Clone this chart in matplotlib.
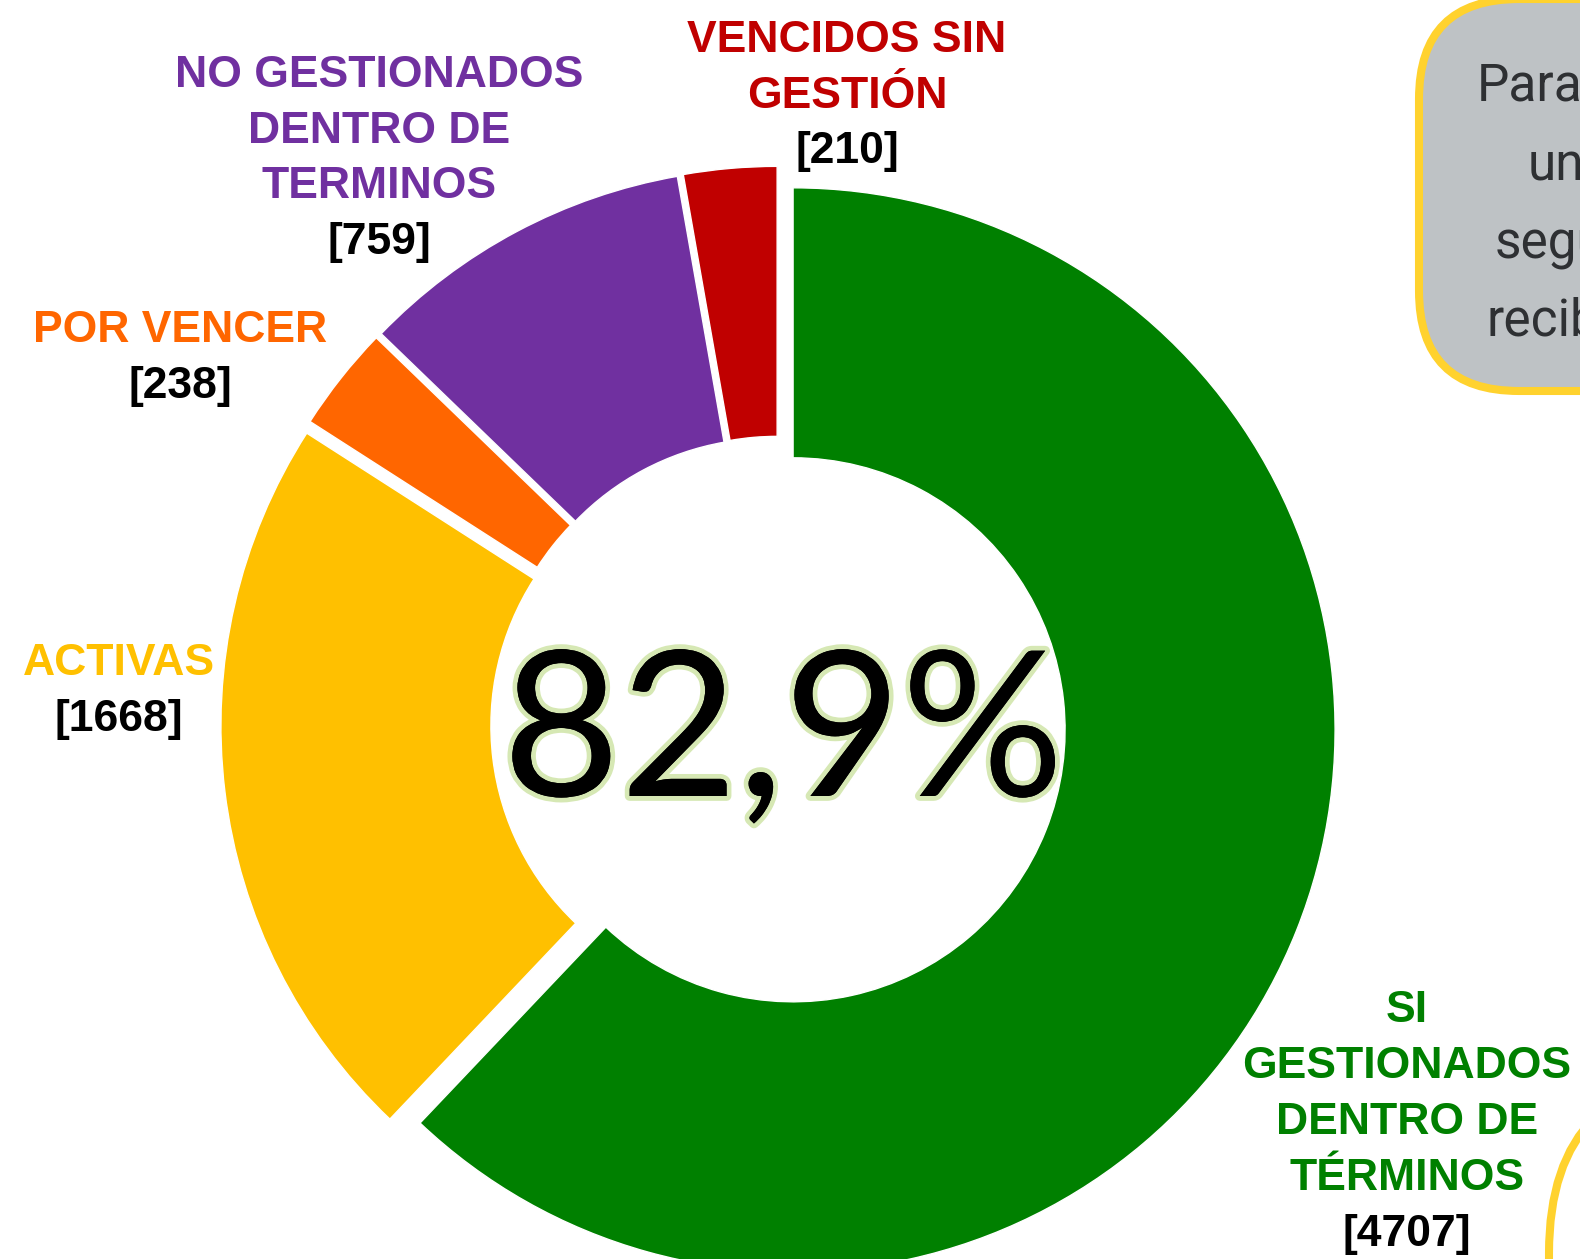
import matplotlib
matplotlib.use("Agg")
import matplotlib.pyplot as plt
from matplotlib.patches import FancyBboxPatch
import matplotlib.patheffects as pe

# ---- data ----
categories = ["SI\nGESTIONADOS\nDENTRO DE\nTÉRMINOS", "ACTIVAS", "POR VENCER",
              "NO GESTIONADOS\nDENTRO DE\nTERMINOS", "VENCIDOS SIN\nGESTIÓN"]
values = [4707, 1668, 238, 759, 210]
colors = ["#008000", "#FFC000", "#FF6600", "#7030A0", "#C00000"]
center_text = "82,9%"
callout_lines = ["Para", "un", "segu", "recib"]

# ---- layout (pixel coordinates, y from top) ----
W, H = 1580, 1259
label_layout = [  # x center, first baseline, line step
    (1407, 1022, 56),
    (119, 675, 56),
    (180, 342, 56),
    (379, 87, 55.5),
    (847, 52, 55.5),
]

fig = plt.figure(figsize=(W / 100, H / 100), dpi=100)
ax = fig.add_axes([0, 0, 1, 1])

def Y(y):
    return H - y

cx, cy = 778.5, 724
R, ring = 542, 270
ax.pie(values, colors=colors, startangle=90, counterclock=False,
       radius=R, center=(cx, Y(cy)), explode=[15.7] * len(values),
       wedgeprops=dict(width=ring, edgecolor="white", linewidth=1.0))

ax.set_xlim(0, W)
ax.set_ylim(0, H)
ax.set_aspect("equal")
ax.axis("off")

label_font = dict(family=["Liberation Sans", "DejaVu Sans"], fontsize=32,
                  fontweight="bold")
for cat, val, col, (lx, by, step) in zip(categories, values, colors, label_layout):
    lines = cat.split("\n")
    for i, ln in enumerate(lines):
        ax.text(lx, Y(by + i * step), ln, color=col, ha="center",
                va="baseline", **label_font)
    ax.text(lx, Y(by + len(lines) * step), f"[{val}]", color="black",
            ha="center", va="baseline", **label_font)

# center percentage
ax.text(783, Y(796), center_text, family=["Lato", "DejaVu Sans"],
        fontsize=146, color="black", ha="center", va="baseline",
        path_effects=[pe.withStroke(linewidth=7, foreground="#d6e8b4"),
                      pe.Normal()])

# callout box top-right (partially cropped)
box = FancyBboxPatch((1419, Y(391)), 600, 392,
                     boxstyle="round,pad=0,rounding_size=100",
                     facecolor="#BEC2C5", edgecolor="#FFD22E",
                     linewidth=5.8, clip_on=True)
ax.add_patch(box)
callout_pos = [(1477, 100), (1528, 180), (1495, 258), (1487, 335)]
for txt, (tx, ty) in zip(callout_lines, callout_pos):
    ax.text(tx, Y(ty), txt, family=["Roboto", "DejaVu Sans"], fontsize=37,
            color="#2E3033", ha="left", va="baseline", clip_on=True)

# second callout box bottom-right (cropped)
box2 = FancyBboxPatch((1549, Y(1500)), 600, 1500 - 1073,
                      boxstyle="round,pad=0,rounding_size=180",
                      facecolor="white", edgecolor="#FFD22E",
                      linewidth=5.8, clip_on=True)
ax.add_patch(box2)

fig.savefig("out.png", dpi=100)
